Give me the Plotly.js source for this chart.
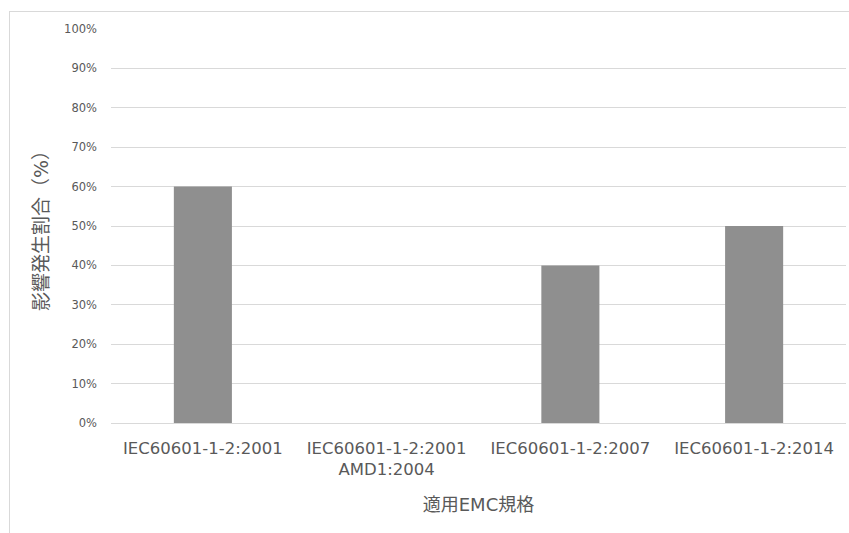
<!DOCTYPE html>
<html>
<head>
<meta charset="utf-8">
<script src="https://cdn.plot.ly/plotly-3.0.1.min.js"></script>
<style>
html,body{margin:0;padding:0;background:#fff;overflow:hidden;}
#frame{position:absolute;left:9px;top:11px;width:900px;height:600px;border-top:1px solid #d9d9d9;border-left:1px solid #d9d9d9;pointer-events:none;}
#chart{position:absolute;left:0;top:0;width:849px;height:533px;}
</style>
</head>
<body>
<div id="chart"></div>
<div id="frame"></div>
<script>
const categories = [
  "IEC60601-1-2:2001",
  "IEC60601-1-2:2001<br>AMD1:2004",
  "IEC60601-1-2:2007",
  "IEC60601-1-2:2014"
];
const values = [0.60, 0.00, 0.40, 0.50];
const yTickValues = [0,0.1,0.2,0.3,0.4,0.5,0.6,0.7,0.8,0.9,1.0];
const xTitle = "適用EMC規格";
const yTitle = "影響発生割合（%）";

const font = "'DejaVu Sans', 'Noto Sans CJK JP', sans-serif";

Plotly.newPlot('chart', [{
  type: 'bar',
  x: categories,
  y: values,
  marker: {color: '#8f8f8f'},
  hoverinfo: 'none'
}], {
  width: 849, height: 533,
  margin: {l: 111, r: 3, t: 29, b: 110},
  paper_bgcolor: 'rgba(0,0,0,0)',
  plot_bgcolor: 'rgba(0,0,0,0)',
  bargap: 0.684,
  showlegend: false,
  font: {family: font, color: '#595959'},
  xaxis: {
    type: 'category',
    showgrid: false,
    showline: true,
    linecolor: '#d9d9d9',
    linewidth: 1,
    ticks: '',
    tickfont: {size: 16.5, color: '#595959', family: font},
    ticklabelstandoff: 10,
    title: {text: xTitle, font: {size: 18, color: '#595959', family: font}, standoff: 20},
    automargin: false,
    fixedrange: true
  },
  yaxis: {
    range: [0, 1],
    tickvals: yTickValues,
    tickformat: '.0%',
    showgrid: true,
    gridcolor: '#d9d9d9',
    gridwidth: 1,
    zeroline: false,
    showline: false,
    ticks: '',
    ticklabelstandoff: 13,
    tickfont: {size: 11.5, color: '#595959', family: font},
    title: {text: yTitle, font: {size: 19, color: '#595959', family: font}, standoff: 10},
    automargin: false,
    fixedrange: true
  }
}, {displayModeBar: false, staticPlot: true});
</script>
</body>
</html>
